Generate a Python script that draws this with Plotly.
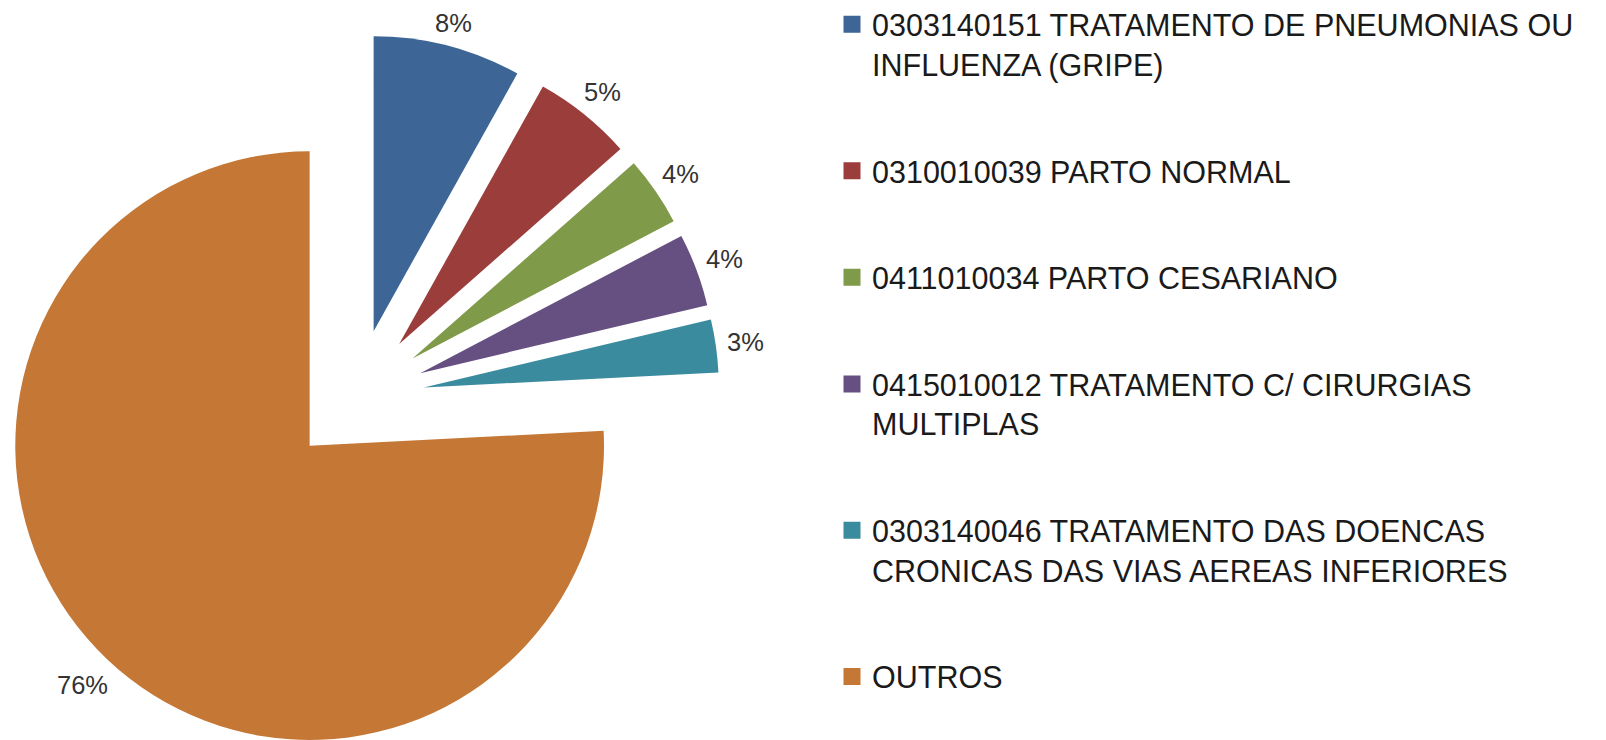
import math
import plotly.graph_objects as go

# ---- data ----
categories = [
    "0303140151 TRATAMENTO DE PNEUMONIAS OU<br>INFLUENZA (GRIPE)",
    "0310010039 PARTO NORMAL",
    "0411010034 PARTO CESARIANO",
    "0415010012 TRATAMENTO C/ CIRURGIAS<br>MULTIPLAS",
    "0303140046 TRATAMENTO DAS DOENCAS<br>CRONICAS DAS VIAS AEREAS INFERIORES",
    "OUTROS",
]
values = [8.1, 5.4, 3.8, 4.0, 2.9, 75.8]
colors = ["#3D6696", "#9A3D3B", "#7F9A48", "#664F81", "#3A8B9E", "#C57836"]

# ---- layout constants (pixels, figure coordinates) ----
PAGE_OFF = 8                     # default page margin around the figure div
W, H = 1606 - PAGE_OFF, 740 - PAGE_OFF
CX, CY = 356.5 - PAGE_OFF, 397 - PAGE_OFF   # un-exploded pie centre
R = 295                          # radius
EXPLODE = 68                     # explosion distance of every slice
LABEL_GAP = 10                   # gap between arc and percentage label
LABEL_SIZE = 25.5
LEGEND_SIZE = 30.5
LEGEND_LEFT = 824                # legend left edge (figure px)
LEGEND_BOTTOM = 695              # legend bottom edge (figure px)
FONT = "Arial, 'Liberation Sans', sans-serif"

fig = go.Figure()

# legend entries (tiny pies hidden under the big slice)
for i, (lab, v, c) in enumerate(zip(categories, values, colors)):
    fig.add_trace(go.Pie(
        labels=[lab], values=[v], sort=False,
        marker=dict(colors=[c], line=dict(color=c, width=10)),
        domain=dict(x=[0.09, 0.0901], y=[0.25, 0.2501]),
        textinfo="none", hoverinfo="skip",
        legendgroup=f"g{i}", showlegend=True,
    ))

# exploded slices: one trace per slice, other slices transparent
total = sum(values)
cum = 0.0
n = len(values)
annotations = []
for i, (lab, v, c) in enumerate(zip(categories, values, colors)):
    a0 = cum / total * 360
    cum += v
    a1 = cum / total * 360
    mid = math.radians((a0 + a1) / 2)
    ux, uy = math.sin(mid), -math.cos(mid)
    sx = CX + EXPLODE * ux
    sy = CY + EXPLODE * uy
    x0 = max(0.0, (sx - R) / W)
    x1 = min(1.0, (sx + R) / W)
    y0 = max(0.0, (H - sy - R) / H)
    y1 = min(1.0, (H - sy + R) / H)
    fig.add_trace(go.Pie(
        labels=categories, values=values, sort=False,
        direction="clockwise", rotation=0,
        marker=dict(colors=[c if j == i else "rgba(0,0,0,0)" for j in range(n)],
                    line=dict(width=0)),
        textinfo="none",
        domain=dict(x=[x0, x1], y=[y0, y1]),
        showlegend=False, hoverinfo="label+percent",
    ))
    # percentage label just outside the slice's arc
    txt = f"{v / total * 100:.0f}%"
    ndig = len(txt) - 1
    tw = (0.556 * ndig + 0.889) * LABEL_SIZE
    th = 0.716 * LABEL_SIZE
    ext = abs(ux) * tw / 2 + abs(uy) * th / 2
    dist = R + LABEL_GAP + ext
    lx = sx + dist * ux
    ly = sy + dist * uy
    annotations.append(dict(
        text=txt, x=lx / W, y=1 - ly / H, xref="paper", yref="paper",
        xanchor="center", yanchor="middle", showarrow=False,
        font=dict(size=LABEL_SIZE, color="#333333", family=FONT),
    ))

fig.update_layout(
    width=W, height=H,
    margin=dict(l=0, r=0, t=0, b=0, pad=0, autoexpand=False),
    paper_bgcolor="white", plot_bgcolor="white",
    font=dict(family=FONT, color="#222222"),
    annotations=annotations,
    legend=dict(
        x=LEGEND_LEFT / W, xanchor="left",
        y=1 - LEGEND_BOTTOM / H, yanchor="bottom",
        font=dict(size=LEGEND_SIZE, color="#1a1a1a", family=FONT),
        tracegroupgap=64, valign="top", traceorder="grouped",
        bgcolor="rgba(0,0,0,0)", itemclick=False, itemdoubleclick=False,
    ),
)

fig.write_html("out.html")
